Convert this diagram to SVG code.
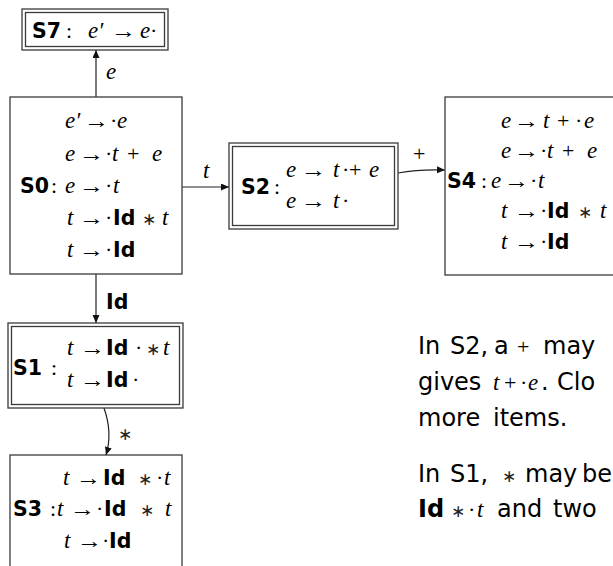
<svg xmlns="http://www.w3.org/2000/svg" width="613" height="566" viewBox="0 0 613 566">
<style>
.box{fill:#fff;stroke:#3a3a3a;stroke-width:1.3}
.in{fill:none;stroke:#3a3a3a;stroke-width:1.3}
.ln{fill:none;stroke:#222;stroke-width:1.2}
text{fill:#000}
.i{font-family:"Liberation Serif",serif;font-style:italic;font-size:23px}
.o{font-family:"Liberation Serif",serif;font-size:22px}
.ar{font-family:"Liberation Serif",serif;font-size:22px}
.st{font-family:"DejaVu Sans",sans-serif;font-size:17px;fill:#222}
.b{font-family:"DejaVu Sans",sans-serif;font-weight:bold;font-size:20.5px}
.s{font-family:"DejaVu Sans",sans-serif;font-size:24px}
</style>
<defs>
<marker id="ah" markerWidth="9" markerHeight="8" refX="8" refY="3.5" orient="auto" markerUnits="userSpaceOnUse">
<path d="M0,0 L8,3.5 L0,7 z" fill="#111"/>
</marker>
</defs>

<g id="connectors">
<path class="ln" d="M96,97 L96,50" marker-end="url(#ah)"/>
<path class="ln" d="M182,187 L229,187" marker-end="url(#ah)"/>
<path class="ln" d="M398,173 Q420,169 445,170" marker-end="url(#ah)"/>
<path class="ln" d="M96,274 L96,323" marker-end="url(#ah)"/>
<path class="ln" d="M104,408 C110,425 110,442 106,455" marker-end="url(#ah)"/>
<text class="i" x="106" y="79">e</text>
<text class="i" x="203" y="178">t</text>
<text class="o" x="413" y="161">+</text>
<text class="b" x="106" y="309">Id</text>
<text class="st" x="118" y="440">∗</text>
</g>

<g id="S7">
<rect class="box" x="22" y="9" width="146" height="41"/>
<rect class="in" x="25.5" y="12.5" width="139" height="34"/>
<text y="38"><tspan class="b" x="32">S7</tspan><tspan class="o" x="66">:</tspan><tspan class="i" x="88">e′</tspan><tspan class="i" x="140">e</tspan><tspan class="o" x="150">·</tspan></text>
<text class="ar" transform="translate(111,38) scale(1.15,1)">→</text>
</g>

<g id="S0">
<rect class="box" x="10" y="97" width="172" height="177"/>
<text y="128"><tspan class="i" x="65">e′</tspan><tspan class="o" x="110">·</tspan><tspan class="i" x="117">e</tspan></text>
<text class="ar" transform="translate(84,128) scale(1.15,1)">→</text>
<text y="161"><tspan class="i" x="65">e</tspan><tspan class="o" x="105">·</tspan><tspan class="i" x="112">t</tspan><tspan class="o" x="127">+</tspan><tspan class="i" x="152">e</tspan></text>
<text class="ar" transform="translate(79,161) scale(1.15,1)">→</text>
<text y="193"><tspan class="b" x="20">S0</tspan><tspan class="o" x="51">:</tspan><tspan class="i" x="65">e</tspan><tspan class="o" x="105">·</tspan><tspan class="i" x="113">t</tspan></text>
<text class="ar" transform="translate(79,193) scale(1.15,1)">→</text>
<text y="225"><tspan class="i" x="67">t</tspan><tspan class="o" x="105">·</tspan><tspan class="b" x="113">Id</tspan><tspan class="st" x="142">∗</tspan><tspan class="i" x="162">t</tspan></text>
<text class="ar" transform="translate(79,225) scale(1.15,1)">→</text>
<text y="257"><tspan class="i" x="67">t</tspan><tspan class="o" x="105">·</tspan><tspan class="b" x="113">Id</tspan></text>
<text class="ar" transform="translate(79,257) scale(1.15,1)">→</text>
</g>

<g id="S2">
<rect class="box" x="229" y="143" width="169" height="86"/>
<rect class="in" x="232.5" y="146.5" width="162" height="79"/>
<text y="194"><tspan class="b" x="241">S2</tspan><tspan class="o" x="274">:</tspan></text>
<text y="177"><tspan class="i" x="286">e</tspan><tspan class="i" x="333">t</tspan><tspan class="o" x="342">·</tspan><tspan class="o" x="349">+</tspan><tspan class="i" x="369">e</tspan></text>
<text class="ar" transform="translate(301,177) scale(1.15,1)">→</text>
<text y="208"><tspan class="i" x="286">e</tspan><tspan class="i" x="333">t</tspan><tspan class="o" x="342">·</tspan></text>
<text class="ar" transform="translate(301,208) scale(1.15,1)">→</text>
</g>

<g id="S4">
<rect class="box" x="445" y="97" width="200" height="178"/>
<text y="128"><tspan class="i" x="501">e</tspan><tspan class="i" x="543">t</tspan><tspan class="o" x="557">+</tspan><tspan class="o" x="575">·</tspan><tspan class="i" x="584">e</tspan></text>
<text class="ar" transform="translate(514,128) scale(1.15,1)">→</text>
<text y="158"><tspan class="i" x="501">e</tspan><tspan class="o" x="540">·</tspan><tspan class="i" x="547">t</tspan><tspan class="o" x="562">+</tspan><tspan class="i" x="587">e</tspan></text>
<text class="ar" transform="translate(514,158) scale(1.15,1)">→</text>
<text y="188"><tspan class="b" x="447">S4</tspan><tspan class="o" x="481">:</tspan><tspan class="i" x="491">e</tspan><tspan class="o" x="530">·</tspan><tspan class="i" x="538">t</tspan></text>
<text class="ar" transform="translate(504,188) scale(1.15,1)">→</text>
<text y="218"><tspan class="i" x="501">t</tspan><tspan class="o" x="540">·</tspan><tspan class="b" x="547">Id</tspan><tspan class="st" x="578">∗</tspan><tspan class="i" x="600">t</tspan></text>
<text class="ar" transform="translate(514,218) scale(1.15,1)">→</text>
<text y="249"><tspan class="i" x="501">t</tspan><tspan class="o" x="540">·</tspan><tspan class="b" x="547">Id</tspan></text>
<text class="ar" transform="translate(514,249) scale(1.15,1)">→</text>
</g>

<g id="S1">
<rect class="box" x="8" y="323" width="175" height="85"/>
<rect class="in" x="11.5" y="326.5" width="168" height="78"/>
<text y="375"><tspan class="b" x="13">S1</tspan><tspan class="o" x="51">:</tspan></text>
<text y="355"><tspan class="i" x="67">t</tspan><tspan class="b" x="106">Id</tspan><tspan class="o" x="135">·</tspan><tspan class="st" x="146">∗</tspan><tspan class="i" x="163">t</tspan></text>
<text class="ar" transform="translate(80,355) scale(1.15,1)">→</text>
<text y="387"><tspan class="i" x="67">t</tspan><tspan class="b" x="106">Id</tspan><tspan class="o" x="132">·</tspan></text>
<text class="ar" transform="translate(80,387) scale(1.15,1)">→</text>
</g>

<g id="S3">
<rect class="box" x="10" y="455" width="172" height="130"/>
<text y="485"><tspan class="i" x="63">t</tspan><tspan class="b" x="103">Id</tspan><tspan class="st" x="138">∗</tspan><tspan class="o" x="156">·</tspan><tspan class="i" x="164">t</tspan></text>
<text class="ar" transform="translate(76,485) scale(1.15,1)">→</text>
<text y="516"><tspan class="b" x="13">S3</tspan><tspan class="o" x="50">:</tspan><tspan class="i" x="57">t</tspan><tspan class="o" x="96">·</tspan><tspan class="b" x="104">Id</tspan><tspan class="st" x="140">∗</tspan><tspan class="i" x="165">t</tspan></text>
<text class="ar" transform="translate(70,516) scale(1.15,1)">→</text>
<text y="548"><tspan class="i" x="64">t</tspan><tspan class="o" x="102">·</tspan><tspan class="b" x="109">Id</tspan></text>
<text class="ar" transform="translate(77,548) scale(1.15,1)">→</text>
</g>

<g id="note">
<text y="354"><tspan class="s" x="418">In</tspan><tspan class="s" x="450">S2,</tspan><tspan class="s" x="494">a</tspan><tspan class="o" x="517">+</tspan><tspan class="s" x="543">may</tspan></text>
<text y="390"><tspan class="s" x="418">gives</tspan><tspan class="i" x="493">t</tspan><tspan class="o" x="504">+</tspan><tspan class="o" x="520">·</tspan><tspan class="i" x="528">e</tspan><tspan class="s" x="541">.</tspan><tspan class="s" x="557">Clo</tspan></text>
<text y="426"><tspan class="s" x="418">more</tspan><tspan class="s" x="493">items.</tspan></text>
<text y="482"><tspan class="s" x="418">In</tspan><tspan class="s" x="450">S1,</tspan><tspan class="st" x="502">∗</tspan><tspan class="s" x="525">may</tspan><tspan class="s" x="582">be</tspan></text>
<text y="517"><tspan class="b" x="418" style="font-size:24px">Id</tspan><tspan class="st" x="451">∗</tspan><tspan class="o" x="468">·</tspan><tspan class="i" x="477">t</tspan><tspan class="s" x="497">and</tspan><tspan class="s" x="553">two</tspan></text>
</g>
</svg>
